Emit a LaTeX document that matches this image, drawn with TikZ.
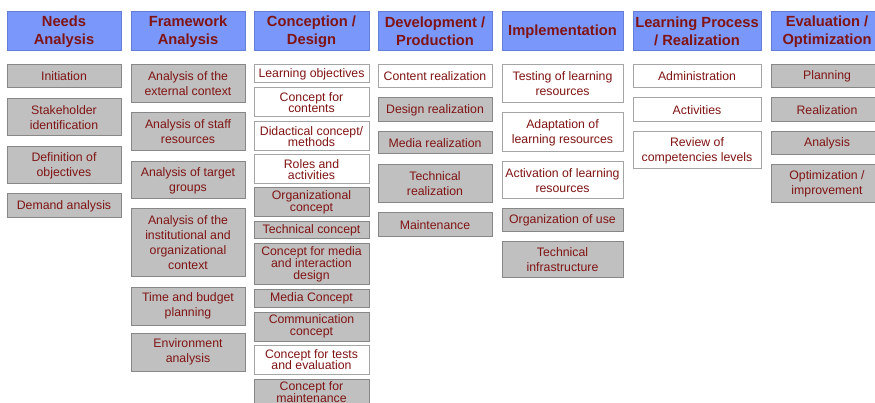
\documentclass[tikz,border=0pt]{standalone}
\usepackage{fontspec}
\setmainfont{Liberation Sans}
\definecolor{hdrfill}{RGB}{122,152,252}
\definecolor{hdrdraw}{RGB}{100,125,215}
\definecolor{txtred}{RGB}{128,20,20}
\definecolor{gfill}{RGB}{192,192,192}
\definecolor{gdraw}{RGB}{135,135,135}
\definecolor{wdraw}{RGB}{165,165,165}
\tikzset{
  boxbase/.style={rectangle, inner sep=0pt, align=center, text=txtred, line width=1pt},
  hdrbox/.style={boxbase, fill=hdrfill, draw=hdrdraw, font=\fontsize{14.7}{18}\selectfont\bfseries},
  graybox/.style={boxbase, fill=gfill, draw=gdraw, font=\fontsize{12.3}{15}\selectfont},
  whitebox/.style={boxbase, fill=white, draw=wdraw, font=\fontsize{12.3}{15}\selectfont},
  tight/.style={font=\fontsize{12.3}{11.7}\selectfont}
}
\newcommand{\bx}[7]{%
  \node[#2, minimum width={(#5-#3)*1pt}, minimum height={(#6-#4)*1pt}] (#1) at ({(#3+#5)/2},{(#4+#6)/2}) {#7};}
\begin{document}
\begin{tikzpicture}[x=1pt,y=-1pt]
\useasboundingbox (0,0) rectangle (875,403);
% headers
\bx{h1}{hdrbox}{7}{12}{121}{51}{Needs\\Analysis}
\bx{h2}{hdrbox}{131}{12}{245}{51}{Framework\\Analysis}
\bx{h3}{hdrbox}{254}{12}{369}{51}{Conception /\\Design}
\bx{h4}{hdrbox}{378}{12}{492}{51}{Development /\\Production}
\bx{h5}{hdrbox}{502}{12}{623}{51}{Implementation}
\bx{h6}{hdrbox}{633}{12}{761}{51}{Learning Process\\/ Realization}
\bx{h7}{hdrbox}{771}{12}{883}{51}{Evaluation /\\Optimization}
% Needs analysis
\bx{a1}{graybox}{7}{65}{121}{88}{Initiation}
\bx{a2}{graybox}{7}{99}{121}{136}{Stakeholder\\identification}
\bx{a3}{graybox}{7}{147}{121}{184}{Definition of\\objectives}
\bx{a4}{graybox}{7}{194}{121}{218}{Demand analysis}
% Framework
\bx{b1}{graybox}{131}{65}{245}{103}{Analysis of the\\external context}
\bx{b2}{graybox}{131}{113}{245}{151}{Analysis of staff\\resources}
\bx{b3}{graybox}{131}{162}{245}{199}{Analysis of target\\groups}
\bx{b4}{graybox}{131}{209}{245}{277}{Analysis of the\\institutional and\\organizational\\context}
\bx{b5}{graybox}{131}{287}{245}{325}{Time and budget\\planning}
\bx{b6}{graybox}{131}{333}{245}{371}{Environment\\analysis}
% Conception
\bx{c1}{whitebox,tight}{254}{65}{369}{83}{Learning objectives}
\bx{c2}{whitebox,tight}{254}{88}{369}{117}{Concept for\\contents}
\bx{c3}{whitebox,tight}{254}{122}{369}{151}{Didactical concept/\\methods}
\bx{c4}{whitebox,tight}{254}{155}{369}{184}{Roles and\\activities}
\bx{c5}{graybox,tight}{254}{188}{369}{217}{Organizational\\concept}
\bx{c6}{graybox,tight}{254}{222}{369}{239}{Technical concept}
\bx{c7}{graybox,tight}{254}{244}{369}{285}{Concept for media\\and interaction\\design}
\bx{c8}{graybox,tight}{254}{289}{369}{307}{Media Concept}
\bx{c9}{graybox,tight}{254}{312}{369}{341}{Communication\\concept}
\bx{c10}{whitebox,tight}{254}{345}{369}{374}{Concept for tests\\and evaluation}
\bx{c11}{graybox,tight}{254}{379}{369}{405}{Concept for\\maintenance}
% Development
\bx{d1}{whitebox}{378}{65}{492}{88}{Content realization}
\bx{d2}{graybox}{378}{98}{492}{122}{Design realization}
\bx{d3}{graybox}{378}{132}{492}{154}{Media realization}
\bx{d4}{graybox}{378}{165}{492}{203}{Technical\\realization}
\bx{d5}{graybox}{378}{213}{492}{237}{Maintenance}
% Implementation
\bx{e1}{whitebox}{502}{65}{623}{103}{Testing of learning\\resources}
\bx{e2}{whitebox}{502}{113}{623}{152}{Adaptation of\\learning resources}
\bx{e3}{whitebox}{502}{162}{623}{199}{Activation of learning\\resources}
\bx{e4}{graybox}{502}{209}{623}{232}{Organization of use}
\bx{e5}{graybox}{502}{242}{623}{278}{Technical\\infrastructure}
% Learning process
\bx{f1}{whitebox}{633}{65}{761}{88}{Administration}
\bx{f2}{whitebox}{633}{98}{761}{122}{Activities}
\bx{f3}{whitebox}{633}{132}{761}{169}{Review of\\competencies levels}
% Evaluation
\bx{g1}{graybox}{771}{65}{883}{88}{Planning}
\bx{g2}{graybox}{771}{98}{883}{122}{Realization}
\bx{g3}{graybox}{771}{132}{883}{155}{Analysis}
\bx{g4}{graybox}{771}{165}{883}{203}{Optimization /\\improvement}
\end{tikzpicture}
\end{document}
